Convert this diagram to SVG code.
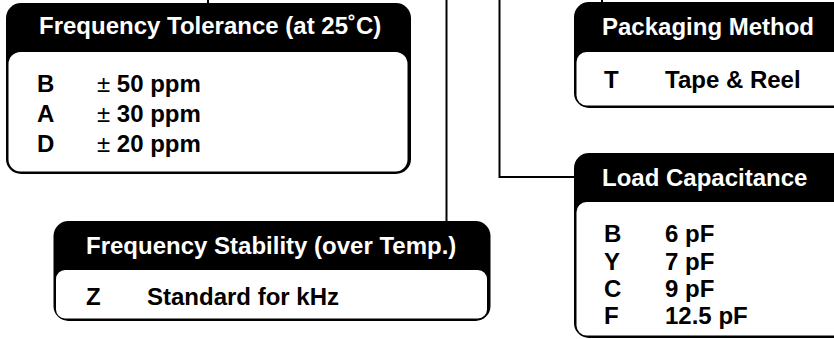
<svg xmlns="http://www.w3.org/2000/svg" width="834" height="339" viewBox="0 0 834 339">
<style>
.hd{font-family:"Liberation Sans",Arial,sans-serif;font-weight:bold;font-size:24px;fill:#fff}
.tx{font-family:"Liberation Sans",Arial,sans-serif;font-weight:bold;font-size:24px;fill:#000}
.pm{font-weight:normal}
.outer{fill:#000}
.inner{fill:#fff}
.conn{fill:none;stroke:#000;stroke-width:2}
</style>
<rect width="834" height="339" fill="#fff"/>
<g id="connectors">
<line class="conn" x1="208" y1="0" x2="208" y2="4"/>
<line class="conn" x1="602" y1="0" x2="602" y2="3"/>
<line class="conn" x1="446.5" y1="0" x2="446.5" y2="222"/>
<path class="conn" d="M499.5 0 V177 H575"/>
</g>
<g id="freq-tolerance">
<rect class="outer" x="6" y="3" width="405" height="171" rx="15"/>
<rect class="inner" x="8.5" y="52" width="399" height="119.5" rx="12"/>
<text class="hd" x="39" y="34">Frequency Tolerance (at 25˚C)</text>
<text class="tx" x="37" y="92">B</text>
<text class="tx" x="97" y="92"><tspan class="pm">±</tspan> 50 ppm</text>
<text class="tx" x="37" y="122">A</text>
<text class="tx" x="97" y="122"><tspan class="pm">±</tspan> 30 ppm</text>
<text class="tx" x="37" y="152">D</text>
<text class="tx" x="97" y="152"><tspan class="pm">±</tspan> 20 ppm</text>
</g>
<g id="packaging">
<rect class="outer" x="574" y="2" width="280" height="106" rx="15"/>
<rect class="inner" x="576.5" y="52" width="280" height="53.5" rx="10"/>
<text class="hd" x="602" y="35">Packaging Method</text>
<text class="tx" x="604" y="88">T</text>
<text class="tx" x="665" y="88">Tape &amp; Reel</text>
</g>
<g id="load-cap">
<rect class="outer" x="574" y="153" width="280" height="185" rx="15"/>
<rect class="inner" x="576.5" y="202" width="280" height="133.5" rx="10"/>
<text class="hd" x="602" y="186">Load Capacitance</text>
<text class="tx" x="604" y="242">B</text>
<text class="tx" x="665" y="242">6 pF</text>
<text class="tx" x="604" y="270">Y</text>
<text class="tx" x="665" y="270">7 pF</text>
<text class="tx" x="604" y="297">C</text>
<text class="tx" x="665" y="297">9 pF</text>
<text class="tx" x="604" y="324">F</text>
<text class="tx" x="665" y="324">12.5 pF</text>
</g>
<g id="freq-stability">
<rect class="outer" x="53.5" y="221" width="437" height="100" rx="15"/>
<rect class="inner" x="56" y="270" width="431" height="48.5" rx="9"/>
<text class="hd" x="86" y="254">Frequency Stability (over Temp.)</text>
<text class="tx" x="86" y="305">Z</text>
<text class="tx" x="147" y="305">Standard for kHz</text>
</g>
</svg>
